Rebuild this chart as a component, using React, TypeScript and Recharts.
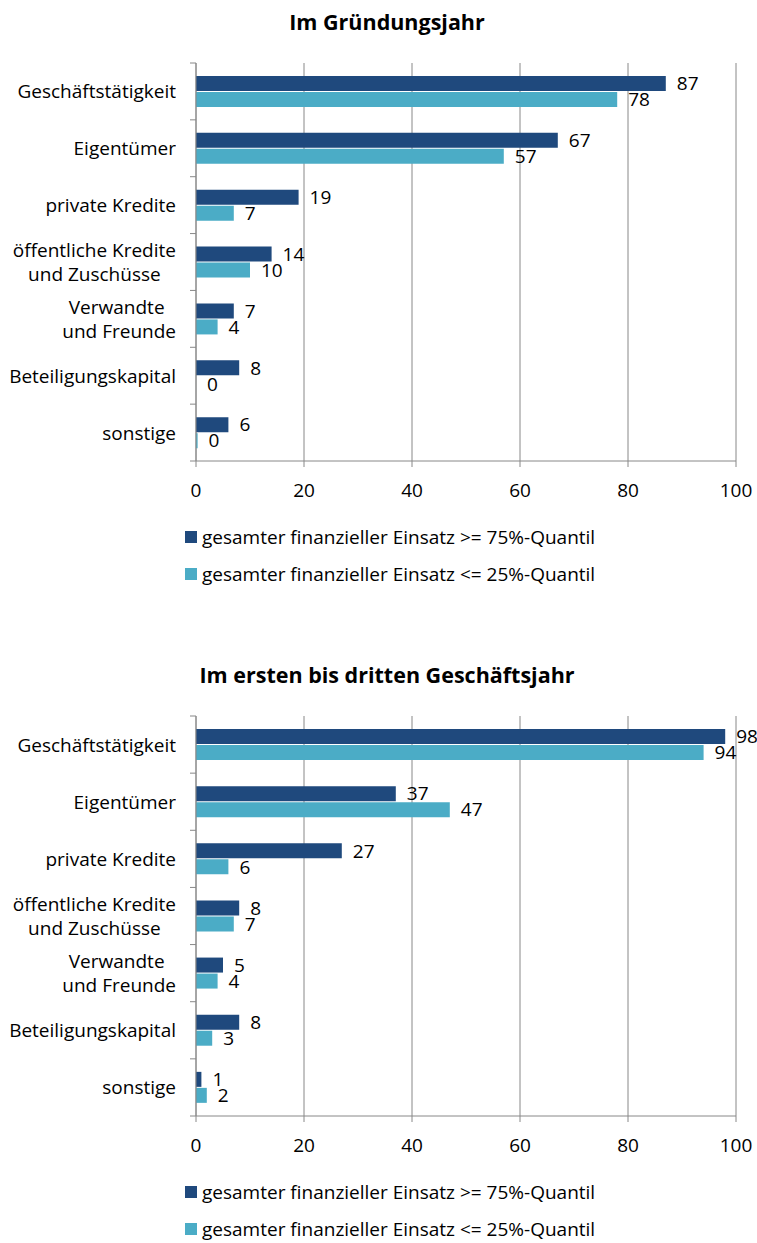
import { BarChart, Bar, XAxis, YAxis, CartesianGrid, LabelList } from "recharts";

const categories = [
  "Geschäftstätigkeit",
  "Eigentümer",
  "private Kredite",
  "öffentliche Kredite\nund Zuschüsse",
  "Verwandte \nund Freunde",
  "Beteiligungskapital",
  "sonstige",
];

// Im Gründungsjahr
const gruendungHigh = [87, 67, 19, 14, 7, 8, 6];
const gruendungLow = [78, 57, 7, 10, 4, 0, 0.3];

// Im ersten bis dritten Geschäftsjahr
const folgeHigh = [98, 37, 27, 8, 5, 8, 1];
const folgeLow = [94, 47, 6, 7, 4, 3, 2];

const xTicks = [0, 20, 40, 60, 80, 100];

const seriesNames = [
  "gesamter finanzieller Einsatz >= 75%-Quantil",
  "gesamter finanzieller Einsatz <= 25%-Quantil",
];

const DARK = "#1F497D";
const LIGHT = "#4BACC6";
const GRID = "#888888";
const FONT = "'Open Sans', sans-serif";
const FS = 19;

const fmt = (v: any) => String(Math.round(Number(v)));
// keep zero bars in the layout so their "0" label still shows
const zeroSize = (v: any) => (Number(v) === 0 ? 0.01 : 0);

function CategoryTick(props: any) {
  const { x, y, payload, index, band, count } = props;
  const lines = String(payload.value).split("\n");
  const axisX = x + 20;
  return (
    <g>
      <line x1={axisX - 6} x2={axisX} y1={y - band / 2} y2={y - band / 2} stroke={GRID} />
      {index === count - 1 && (
        <line x1={axisX - 6} x2={axisX} y1={y + band / 2} y2={y + band / 2} stroke={GRID} />
      )}
      <foreignObject x={x - 180} y={y - 30} width={180} height={60}>
        <div
          style={{
            display: "flex",
            justifyContent: "flex-end",
            alignItems: "center",
            height: "100%",
          }}
        >
          <div
            style={{
              textAlign: "center",
              lineHeight: "24px",
              fontSize: FS,
              fontFamily: FONT,
              color: "#000",
              whiteSpace: "pre",
            }}
          >
            {lines.map((l, i) => (
              <div key={i}>{l}</div>
            ))}
          </div>
        </div>
      </foreignObject>
    </g>
  );
}

function Panel({
  top,
  title,
  high,
  low,
  plotHeight,
}: {
  top: number;
  title: string;
  high: number[];
  low: number[];
  plotHeight: number;
}) {
  const data = categories.map((name, i) => ({ name, high: high[i], low: low[i] }));
  const legendTop = 63 + plotHeight + 76;
  const band = plotHeight / categories.length;
  return (
    <div style={{ position: "absolute", top, left: 0, width: 757, height: 600 }}>
      <div
        style={{
          position: "absolute",
          top: 8,
          left: 0,
          width: 774,
          height: 28,
          lineHeight: "28px",
          textAlign: "center",
          fontFamily: FONT,
          fontWeight: 700,
          fontSize: 21.5,
          color: "#000",
        }}
      >
        {title}
      </div>
      <div style={{ position: "absolute", top: 0, left: 0 }}>
        <BarChart
          width={757}
          height={63 + plotHeight + 52}
          data={data}
          layout="vertical"
          margin={{ top: 63, right: 21, bottom: 12, left: 0 }}
          barSize={15}
          barGap={1}
        >
          <CartesianGrid horizontal={false} stroke={GRID} />
          <XAxis
            type="number"
            domain={[0, 100]}
            ticks={xTicks}
            interval={0}
            height={40}
            axisLine={{ stroke: GRID }}
            tickLine={{ stroke: GRID }}
            tickSize={6}
            tickMargin={17}
            tick={{ fill: "#000", fontSize: FS, fontFamily: FONT }}
          />
          <YAxis
            type="category"
            dataKey="name"
            width={196}
            interval={0}
            axisLine={{ stroke: GRID }}
            tickLine={false}
            tickSize={0}
            tickMargin={20}
            tick={<CategoryTick band={band} count={categories.length} />}
          />
          <Bar
            dataKey="high"
            name={seriesNames[0]}
            fill={DARK}
            minPointSize={zeroSize}
            isAnimationActive={false}
          >
            <LabelList
              dataKey="high"
              position="right"
              offset={11}
              fill="#000"
              fontSize={FS}
              fontFamily={FONT}
              formatter={fmt}
            />
          </Bar>
          <Bar
            dataKey="low"
            name={seriesNames[1]}
            fill={LIGHT}
            minPointSize={zeroSize}
            isAnimationActive={false}
          >
            <LabelList
              dataKey="low"
              position="right"
              offset={11}
              fill="#000"
              fontSize={FS}
              fontFamily={FONT}
              formatter={fmt}
            />
          </Bar>
        </BarChart>
      </div>
      {seriesNames.map((n, i) => (
        <div
          key={n}
          style={{
            position: "absolute",
            top: legendTop + i * 37 - 12,
            left: 185,
            height: 24,
            display: "flex",
            alignItems: "center",
            fontFamily: FONT,
            fontSize: FS,
            color: "#000",
            whiteSpace: "nowrap",
          }}
        >
          <span
            style={{
              display: "inline-block",
              width: 12,
              height: 12,
              background: i === 0 ? DARK : LIGHT,
              marginRight: 5,
            }}
          />
          {n}
        </div>
      ))}
    </div>
  );
}

export default function App() {
  return (
    <div style={{ position: "absolute", top: 0, left: 0, width: 757, height: 1243, background: "#fff" }}>
      <Panel top={0} title="Im Gründungsjahr" high={gruendungHigh} low={gruendungLow} plotHeight={398} />
      <Panel
        top={653}
        title="Im ersten bis dritten Geschäftsjahr"
        high={folgeHigh}
        low={folgeLow}
        plotHeight={400}
      />
    </div>
  );
}
